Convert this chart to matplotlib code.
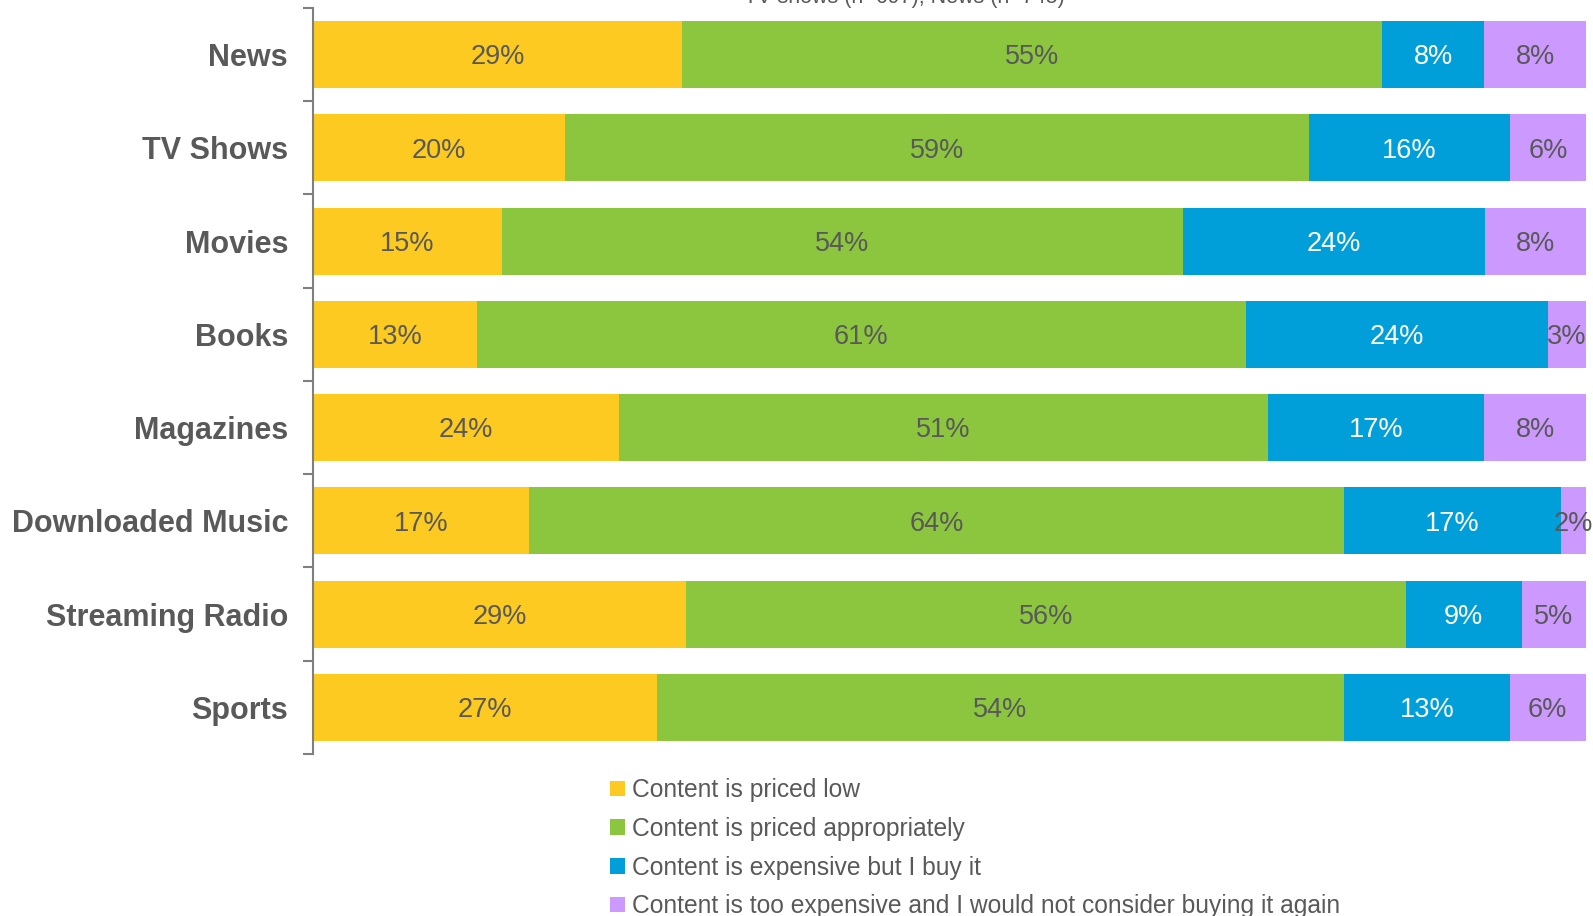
import matplotlib.pyplot as plt
import numpy as np
from matplotlib.patches import Patch

plt.rcParams["font.family"] = ["Liberation Sans", "DejaVu Sans"]

categories = ["News", "TV Shows", "Movies", "Books", "Magazines",
              "Downloaded Music", "Streaming Radio", "Sports"]
series_names = [
    "Content is priced low",
    "Content is priced appropriately",
    "Content is expensive but I buy it",
    "Content is too expensive and I would not consider buying it again",
]
priced_low = [29, 20, 15, 13, 24, 17, 29, 27]
priced_ok = [55, 59, 54, 61, 51, 64, 56, 54]
expensive_buy = [8, 16, 24, 24, 17, 17, 9, 13]
too_expensive = [8, 6, 8, 3, 8, 2, 5, 6]

colors = ["#FCCA20", "#8CC63F", "#009FD9", "#CC99FF"]
label_colors = ["#595959", "#595959", "white", "#595959"]
grey = "#595959"

values = np.array([priced_low, priced_ok, expensive_buy, too_expensive], dtype=float)
# each row is shown as a 100% stacked bar
shares = values / values.sum(axis=0) * 100

fig = plt.figure(figsize=(15.93, 9.16), dpi=100)
ax = fig.add_axes([0.1965, 0.1769, 0.7991, 0.8144])

y = np.arange(len(categories))
left = np.zeros(len(categories))
for i in range(4):
    bars = ax.barh(y, shares[i], left=left, height=0.72, color=colors[i],
                   label=series_names[i])
    texts = ax.bar_label(bars, labels=[f"{int(v)}%" for v in values[i]],
                         label_type="center", color=label_colors[i], fontsize=19.5)
    for t in texts:
        t.xyann = (0, -2)
    left += shares[i]

ax.set_xlim(0, 100)
ax.set_ylim(len(categories) - 0.5, -0.5)
ax.set_yticks(y)
ax.set_yticklabels(categories, fontsize=22, fontweight="bold", color=grey)
ax.set_yticks(np.arange(-0.5, len(categories)), minor=True)
ax.tick_params(axis="y", which="major", length=0, pad=18)
ax.tick_params(axis="y", which="minor", length=7, width=1.5, color="#7F7F7F")
ax.set_xticks([])
for side in ["top", "right", "bottom"]:
    ax.spines[side].set_visible(False)
ax.spines["left"].set_color("#7F7F7F")
ax.spines["left"].set_linewidth(1.5)

fig.text(0.5675, 1 - 3 / 916, "TV shows (n=697), News (n=745)", ha="center",
         va="baseline", fontsize=15.5, color=grey)

handles = [Patch(facecolor=c, edgecolor="none") for c in colors]
fig.legend(handles, series_names, loc="upper left",
           bbox_to_anchor=(0.383, 0.1506), frameon=False, fontsize=17.7,
           labelcolor=grey, handlelength=0.6, handleheight=0.6,
           handletextpad=0.3, labelspacing=0.6, borderpad=0, borderaxespad=0)

fig.savefig("out.png", dpi=100)
